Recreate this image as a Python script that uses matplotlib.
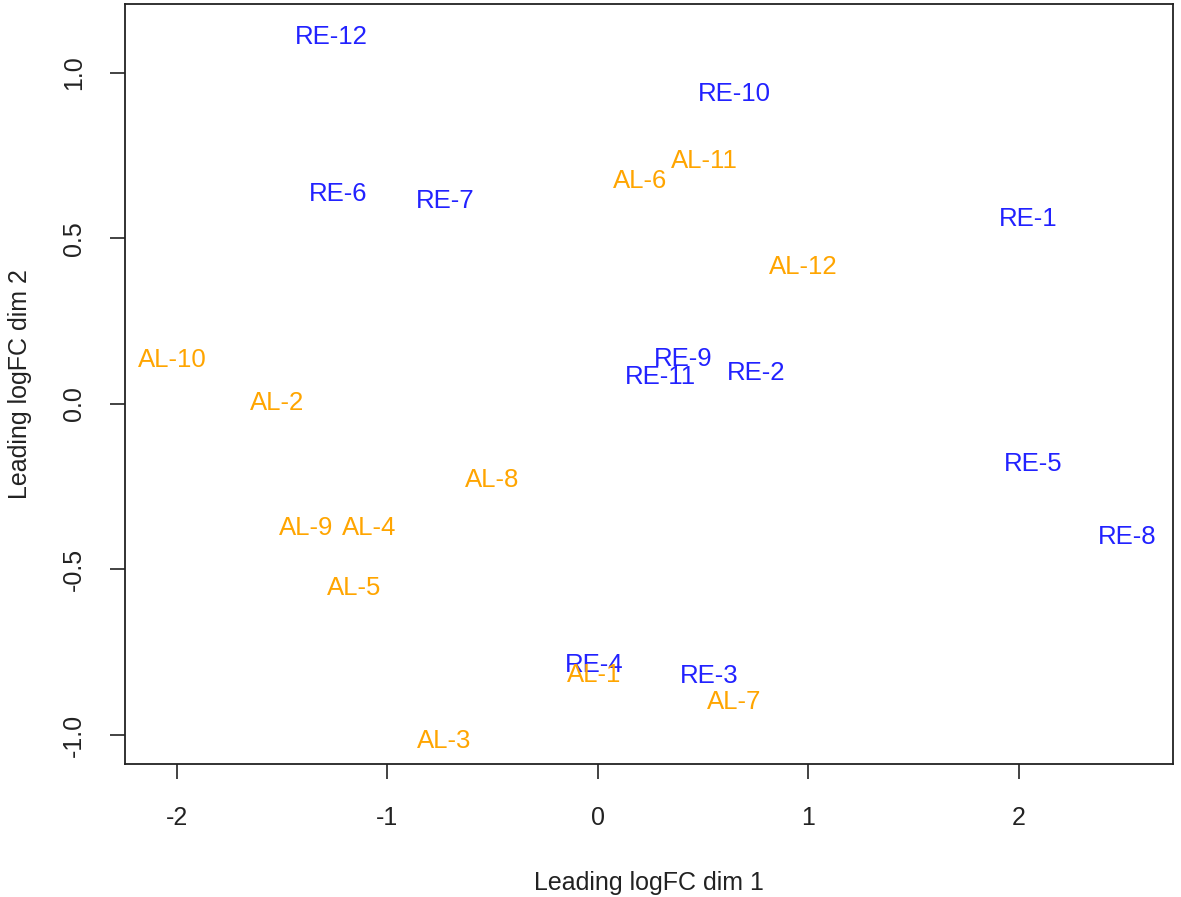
import matplotlib
matplotlib.use('Agg')
import matplotlib.pyplot as plt

plt.rcParams['font.family'] = ['Liberation Sans', 'DejaVu Sans']

# MDS coordinates
labels = ['RE-12', 'RE-10', 'AL-11', 'AL-6', 'RE-6', 'RE-7', 'RE-1', 'AL-12',
          'AL-10', 'RE-9', 'RE-11', 'RE-2', 'AL-2', 'RE-5', 'AL-8', 'RE-8',
          'AL-9', 'AL-4', 'AL-5', 'RE-4', 'AL-1', 'RE-3', 'AL-7', 'AL-3']
dim1 = [-1.268, 0.646, 0.504, 0.200, -1.235, -0.727, 2.043, 0.974,
        -2.024, 0.404, 0.299, 0.751, -1.525, 2.067, -0.504, 2.513,
        -1.387, -1.088, -1.159, -0.019, -0.019, 0.527, 0.646, -0.732]
dim2 = [1.114, 0.942, 0.740, 0.679, 0.640, 0.619, 0.564, 0.420,
        0.139, 0.142, 0.088, 0.100, 0.009, -0.175, -0.223, -0.395,
        -0.368, -0.368, -0.549, -0.782, -0.812, -0.815, -0.893, -1.011]

xticks = [-2, -1, 0, 1, 2]
yticks = [-1.0, -0.5, 0.0, 0.5, 1.0]

colors = {'RE': '#2222ff', 'AL': '#ffa500'}

fig = plt.figure(figsize=(11.81, 8.97), dpi=100)
ax = fig.add_axes([0.1058, 0.1483, 0.8874, 0.8473])

for lab, x, y in zip(labels, dim1, dim2):
    ax.text(x, y, lab, color=colors[lab[:2]], fontsize=18.5,
            ha='center', va='center_baseline')

ax.set_xlim(-2.247, 2.732)
ax.set_ylim(-1.087, 1.207)
ax.set_xticks(xticks)
ax.set_xticklabels([str(v) for v in xticks])
ax.set_yticks(yticks)
ax.set_yticklabels([f'{v:.1f}' for v in yticks], rotation=90, va='center')
ax.tick_params(length=11, width=1.2, labelsize=18, colors='#222222')
ax.tick_params(axis='x', pad=19)
ax.tick_params(axis='y', pad=17)
for sp in ax.spines.values():
    sp.set_linewidth(1.3)
    sp.set_color('#222222')

ax.set_xlabel('Leading logFC dim 1', fontsize=18, color='#222222', labelpad=30)
ax.set_ylabel('Leading logFC dim 2', fontsize=18, color='#222222', labelpad=22)

fig.savefig('out.png', dpi=100)
